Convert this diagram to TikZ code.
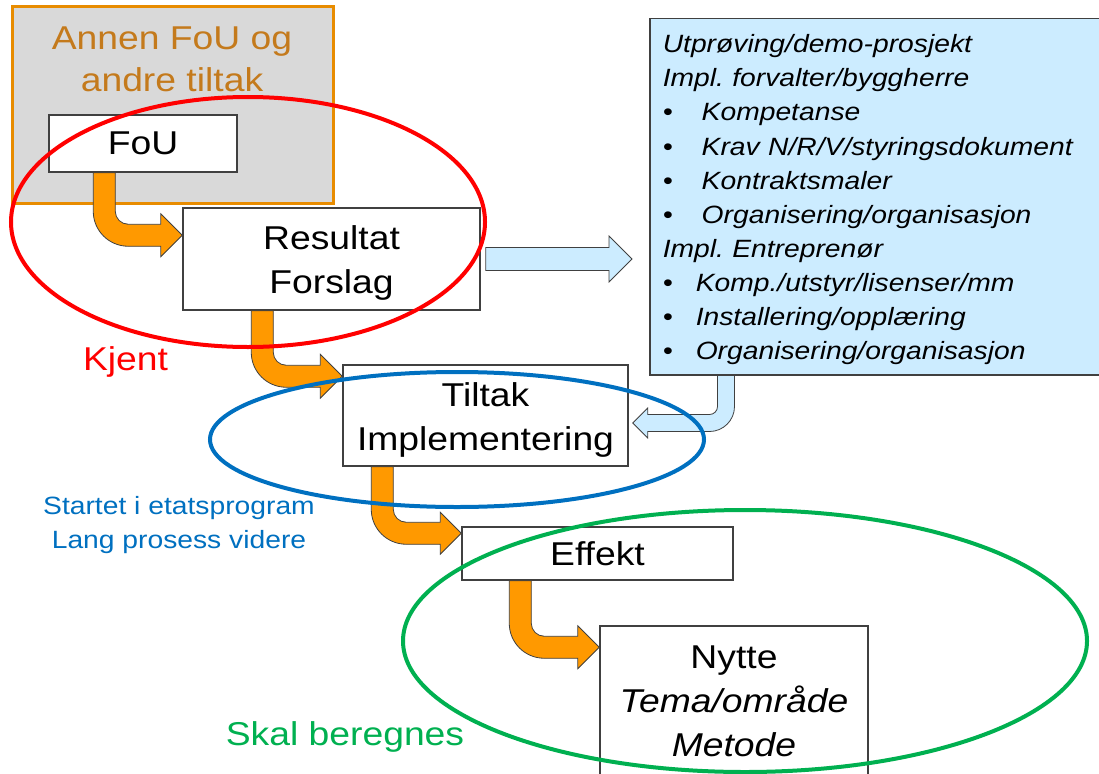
\documentclass[tikz,border=0pt]{standalone}
\usepackage{fontspec}
\setmainfont{Liberation Sans}[FakeStretch=1.13]
\usepackage{tikz}
\usetikzlibrary{calc}
\definecolor{pilorange}{RGB}{255,153,0}
\definecolor{pilblaa}{RGB}{204,236,255}
\definecolor{kantgraa}{RGB}{64,64,64}
\definecolor{boksgraa}{RGB}{217,217,217}
\definecolor{fouorange}{RGB}{232,140,0}
\definecolor{foutekst}{RGB}{196,122,28}
\definecolor{ringrod}{RGB}{255,0,0}
\definecolor{ringblaa}{RGB}{0,112,192}
\definecolor{ringgronn}{RGB}{0,176,80}

\newcommand{\bentarrow}[7]{%
\draw[#1] let \p1=(#2), \p2=(#3) in
 ({\x1-(#7)*#4pt},\y1) -- ({\x1-(#7)*#4pt},{\y2-#4pt+#6pt})
 .. controls ({\x1-(#7)*#4pt},{\y2-#4pt+0.448*#6pt}) and ({\x1+(#7)*(0.448*#6pt-#4pt)},{\y2-#4pt}) .. ({\x1+(#7)*(#6pt-#4pt)},{\y2-#4pt})
 -- ({\x2-(#7)*#5pt},{\y2-#4pt}) -- ({\x2-(#7)*#5pt},{\y2-#5pt}) -- (\x2,\y2)
 -- ({\x2-(#7)*#5pt},{\y2+#5pt}) -- ({\x2-(#7)*#5pt},{\y2+#4pt})
 -- ({\x1+(#7)*(#6pt-#4pt)},{\y2+#4pt})
 .. controls ({\x1+(#7)*(0.448*#6pt+0.104*#4pt)},{\y2+#4pt}) and ({\x1+(#7)*#4pt},{\y2+0.448*#6pt+0.104*#4pt}) .. ({\x1+(#7)*#4pt},{\y2+#6pt-#4pt})
 -- ({\x1+(#7)*#4pt},\y1) -- cycle;}

\newcommand{\rettpil}[5]{%
\draw[#1] let \p1=(#2), \p2=(#3) in
 (\x1,{\y1-#4pt}) -- ({\x2-#5pt},{\y1-#4pt}) -- ({\x2-#5pt},{\y1-#5pt}) -- (\x2,\y1)
 -- ({\x2-#5pt},{\y1+#5pt}) -- ({\x2-#5pt},{\y1+#4pt}) -- (\x1,{\y1+#4pt}) -- cycle;}

\newcommand{\kulepkt}[2]{\makebox[#1][l]{\textbullet}#2}
\newcommand{\toppstrut}{\rule{0pt}{32pt}}

\begin{document}
\begin{tikzpicture}[x=1pt,y=-1pt,
  boks/.style={draw=kantgraa,line width=1.5pt,fill=white,align=center,inner sep=0pt,
    font=\fontsize{33}{44}\selectfont},
  orangepil/.style={draw=kantgraa,line width=0.8pt,fill=pilorange},
  blaapil/.style={draw=kantgraa,line width=0.8pt,fill=pilblaa},
  ring/.style={line width=4pt}]
\useasboundingbox (0,0) rectangle (1099,773);

\node[draw=fouorange,line width=3pt,fill=boksgraa,minimum width=321pt,minimum height=196pt] (annen) at (172.5,105) {};
\node[text=foutekst,align=center,font=\fontsize{33}{42}\selectfont] (annentekst) at (172,59) {Annen FoU og\\andre tiltak};

\node[boks,minimum width=188pt,minimum height=57pt] (fou) at (143,143.5) {FoU};
\node[boks,minimum width=297pt,minimum height=102pt] (resultat) at (331.5,259) {\toppstrut Resultat\\Forslag};
\node[boks,minimum width=285pt,minimum height=101pt] (tiltak) at (485.5,415.5) {\toppstrut Tiltak\\Implementering};
\node[boks,minimum width=271pt,minimum height=53pt] (effekt) at (597.5,553.5) {Effekt};
\node[boks,minimum width=268pt,minimum height=150pt] (nytte) at (734,701) {Nytte\\\textit{Tema/område}\\\textit{Metode}};

\node[draw=kantgraa,line width=1.5pt,fill=pilblaa,anchor=north west,minimum height=356pt,
  text width=444pt,inner xsep=13pt,inner ysep=0pt,align=left,
  font={\fontsize{25}{34.1}\selectfont\itshape}] (info) at (649,18)
  {\rule{0pt}{24pt}Utprøving/demo-prosjekt\\
   Impl.\ forvalter/byggherre\\
   \kulepkt{39pt}{Kompetanse}\\
   \kulepkt{39pt}{Krav N/R/V/styringsdokument}\\
   \kulepkt{39pt}{Kontraktsmaler}\\
   \kulepkt{39pt}{Organisering/organisasjon}\\
   Impl.\ Entreprenør\\
   \kulepkt{33pt}{Komp./utstyr/lisenser/mm}\\
   \kulepkt{33pt}{Installering/opplæring}\\
   \kulepkt{33pt}{Organisering/organisasjon}};

\bentarrow{orangepil}{[xshift=56pt]fou.south west}{[yshift=-28pt]resultat.north west}{11}{21.5}{35}{1}
\bentarrow{orangepil}{[xshift=80pt]resultat.south west}{[yshift=-12pt]tiltak.north west}{11}{22}{35}{1}
\bentarrow{orangepil}{[xshift=40pt]tiltak.south west}{[yshift=-7pt]effekt.north west}{11}{21}{35}{1}
\bentarrow{orangepil}{[xshift=59pt]effekt.south west}{[yshift=-22pt]nytte.north west}{11}{21.5}{35}{1}

\rettpil{blaapil}{[xshift=5pt]resultat.east}{$(info.west |- resultat.east)+(-17,0)$}{11.5}{23}
\bentarrow{blaapil}{[xshift=77pt]info.south west}{[shift={(4pt,-7.5pt)}]tiltak.east}{8.5}{15}{25}{-1}

\node[text=ringrod,font=\fontsize{33}{44}\selectfont,anchor=base] (kjent) at (125.5,370) {Kjent};
\node[text=ringblaa,font=\fontsize{25}{34}\selectfont,align=center,anchor=base] (startet) at (179,548) {Startet i etatsprogram\\Lang prosess videre};
\node[text=ringgronn,font=\fontsize{33}{44}\selectfont,anchor=base] (skal) at (345,745) {Skal beregnes};

\draw[ring,draw=ringrod] (248,222) ellipse [x radius=237pt,y radius=125pt];
\draw[ring,draw=ringblaa] (457,439.5) ellipse [x radius=247pt,y radius=67.5pt];
\draw[ring,draw=ringgronn] (745,641) ellipse [x radius=342pt,y radius=131pt];
\end{tikzpicture}
\end{document}
